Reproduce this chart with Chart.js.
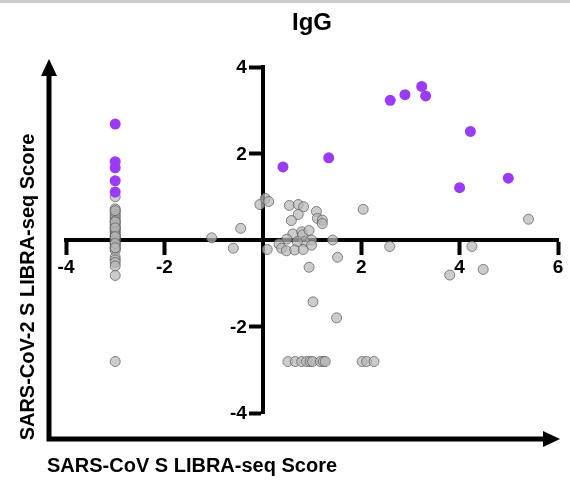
<!DOCTYPE html>
<html>
<head>
<meta charset="utf-8">
<script src="https://cdn.jsdelivr.net/npm/chart.js@4/dist/chart.umd.min.js"></script>
<style>
  body { margin: 0; background: #fff; }
  #wrap { position: relative; width: 570px; height: 485px; }
  #topbar { position: absolute; left: 0; top: 0; width: 570px; height: 3px; background: #cccccc; }
</style>
</head>
<body>
<div id="wrap">
  <canvas id="chart" width="570" height="485"></canvas>
  <div id="topbar"></div>
</div>
<script>
"use strict";
const FONT = "'Liberation Sans', Arial, Helvetica, sans-serif";

// tick values on the two centred axes (0 is left unlabelled)
const xTicks = [-4, -2, 2, 4, 6];
const yTicks = [-4, -2, 2, 4];

// antibodies with high scores for both antigens
const purpleX = [-3, -3, -3, -3, -3, 0.41, 1.34, 2.59, 2.89, 3.23, 3.31, 4.22, 4.99, 4.0];
const purpleY = [2.68, 1.81, 1.67, 1.37, 1.11, 1.69, 1.9, 3.23, 3.36, 3.55, 3.33, 2.51, 1.43, 1.21];

// all other antibodies
const grayX = [
  -3, -3, -3, -3, -3, -3, -3, -3, -3, -3, -3, -3, -3, -3, -3,
  -3, -3, -3, -3, -3, -3, -3, -3, -3, -3, -3, -3, -3, -3,
  -3, -3, -3, -3, -3, -3,
  -1.04, -0.6, -0.45, -0.06, 0.05, 0.12, 0.09, 0.54, 0.72, 0.83, 0.72, 0.58,
  1.09, 1.11, 1.21, 1.21, 0.61, 0.49, 0.79, 0.81, 0.94, 0.99, 0.85, 0.7,
  0.33, 0.38, 0.48, 0.65, 0.82, 0.99, 1.42, 1.52, 0.94, 2.04, 1.02, 1.5,
  0.51, 0.66, 0.79, 0.89, 0.96, 1.01, 1.17, 1.23, 1.27, 2.02, 2.11, 2.26,
  5.4, 2.58, 4.25, 4.48, 3.8
];
const grayY = [
  1.0, 0.72, 0.66, 0.6, 0.55, 0.5, 0.45, 0.4, 0.35, 0.3, 0.26, 0.22, 0.18, 0.14, 0.1,
  0.06, 0.02, -0.02, -0.06, -0.1, -0.15, -0.2, -0.24, -0.4, -0.46, -0.52, -0.6, -0.82, -2.81,
  0.68, 0.42, 0.28, 0.08, -0.08, -0.18,
  0.05, -0.19, 0.27, 0.82, 0.96, 0.89, -0.22, 0.8, 0.82, 0.77, 0.59, 0.45,
  0.66, 0.5, 0.46, 0.38, 0.14, 0.02, 0.19, 0.12, 0.22, 0.0, -0.04, -0.04,
  -0.09, -0.19, -0.25, -0.23, -0.22, -0.12, 0.0, -0.4, -0.63, 0.71, -1.43, -1.8,
  -2.81, -2.81, -2.81, -2.81, -2.81, -2.81, -2.81, -2.81, -2.81, -2.81, -2.81, -2.81,
  0.48, -0.15, -0.15, -0.68, -0.81
];

const titleText = "IgG";
const xTitle = "SARS-CoV S LIBRA-seq Score";
const yTitle = "SARS-CoV-2 S LIBRA-seq Score";

function toPoints(xs, ys) {
  return xs.map((x, i) => ({ x: x, y: ys[i] }));
}

const tickFont = { family: FONT, size: 19, weight: "bold" };

// outer arrow frame, axis titles and the y tick labels (left of the centred axis)
const frame = {
  id: "frame",
  afterDraw(chart) {
    const ctx = chart.ctx;
    const xs = chart.scales.x;
    const ys = chart.scales.y;
    ctx.save();
    ctx.strokeStyle = "#000";
    ctx.fillStyle = "#000";
    ctx.lineWidth = 5;
    ctx.lineJoin = "miter";
    ctx.beginPath();
    ctx.moveTo(49, 74);
    ctx.lineTo(49, 439);
    ctx.lineTo(545, 439);
    ctx.stroke();
    // arrow heads
    ctx.beginPath();
    ctx.moveTo(49, 59);
    ctx.lineTo(41, 76);
    ctx.lineTo(57, 76);
    ctx.closePath();
    ctx.fill();
    ctx.beginPath();
    ctx.moveTo(560, 439);
    ctx.lineTo(543, 431);
    ctx.lineTo(543, 447);
    ctx.closePath();
    ctx.fill();

    // y tick labels
    ctx.font = "bold " + tickFont.size + "px " + FONT;
    ctx.textAlign = "right";
    ctx.textBaseline = "middle";
    const labelX = xs.getPixelForValue(0) - 2 - 12 - 2;
    ys.ticks.forEach((t) => {
      ctx.fillText(String(t.value), labelX, ys.getPixelForValue(t.value) + 1);
    });

    ctx.font = "bold 20px " + FONT;
    ctx.textBaseline = "middle";
    ctx.textAlign = "left";
    ctx.fillText(xTitle, 47, 466);
    ctx.translate(28, 287);
    ctx.rotate(-Math.PI / 2);
    ctx.textAlign = "center";
    ctx.fillText(yTitle, 0, 0);
    ctx.restore();
  }
};

new Chart(document.getElementById("chart"), {
  type: "scatter",
  data: {
    datasets: [
      {
        label: "high",
        data: toPoints(purpleX, purpleY),
        backgroundColor: "#9a3cf5",
        borderColor: "#9a3cf5",
        borderWidth: 0,
        pointRadius: 5.5,
      },
      {
        label: "other",
        data: toPoints(grayX, grayY),
        backgroundColor: "rgba(185,185,185,0.72)",
        borderColor: "rgba(90,90,90,0.72)",
        borderWidth: 1,
        pointRadius: 5,
      },
    ],
  },
  options: {
    responsive: false,
    animation: false,
    devicePixelRatio: 1,
    layout: { padding: { left: 66, right: 12, top: 0, bottom: 72 } },
    plugins: {
      legend: { display: false },
      tooltip: { enabled: false },
      title: {
        display: true,
        text: titleText,
        color: "#000",
        font: { family: FONT, size: 24, weight: "bold" },
        padding: { top: 9, bottom: 29.2 },
      },
    },
    scales: {
      x: {
        type: "linear",
        min: -4,
        max: 6,
        position: { y: 0 },
        afterBuildTicks: (scale) => {
          scale.ticks = xTicks.map((v) => ({ value: v }));
        },
        grid: { drawOnChartArea: false, drawTicks: true, tickLength: 13, tickWidth: 4, tickColor: "#000" },
        border: { color: "#000", width: 4 },
        ticks: { color: "#000", font: tickFont, padding: 3, maxRotation: 0 },
      },
      y: {
        type: "linear",
        min: -4,
        max: 4,
        position: { x: 0 },
        afterBuildTicks: (scale) => {
          scale.ticks = yTicks.map((v) => ({ value: v }));
        },
        grid: { drawOnChartArea: false, drawTicks: true, tickLength: 12, tickWidth: 4, tickColor: "#000" },
        border: { color: "#000", width: 4 },
        ticks: { display: false },
      },
    },
  },
  plugins: [frame],
});
</script>
</body>
</html>
